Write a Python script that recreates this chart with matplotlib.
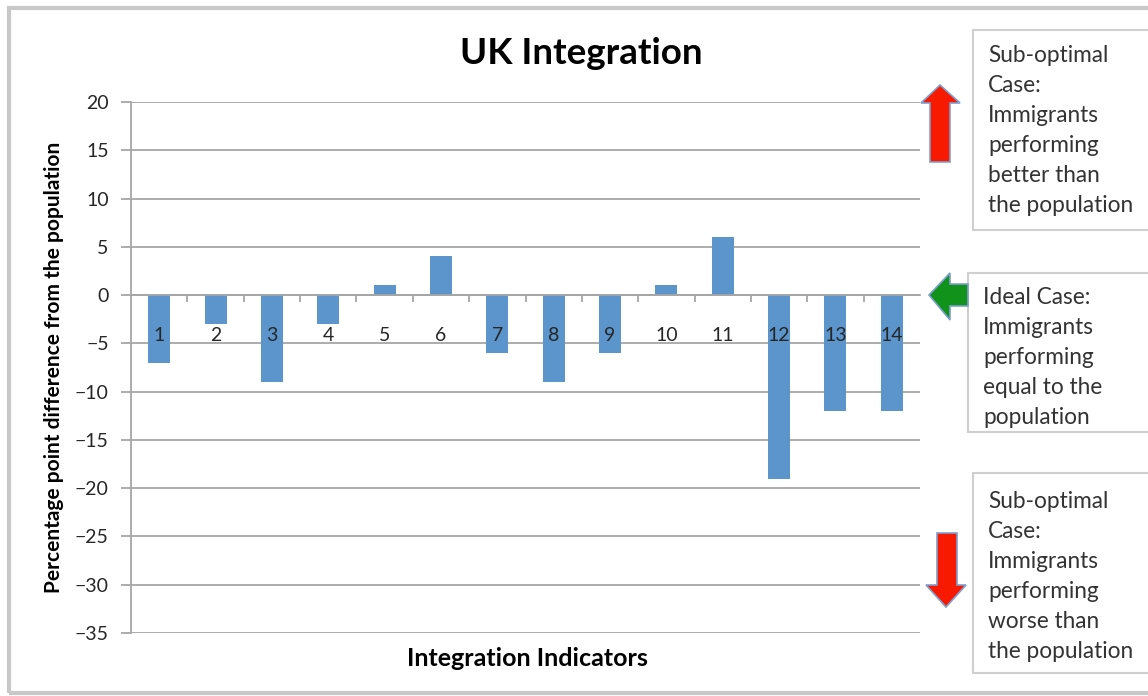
#UK integration bar chart with side annotations

import numpy as np
import matplotlib
matplotlib.use('Agg')
import matplotlib.pyplot as plt
from matplotlib.patches import Polygon, Rectangle

plt.rcParams['font.family'] = ['Lato', 'DejaVu Sans']

#Input data
indicators = [str(i) for i in range(1, 15)]
diffs = [-7, -3, -9, -3, 1, 4, -6, -9, -6, 1, 6, -19, -12, -12]
yticks = list(range(-35, 25, 5))

box_texts = [
    ['Sub-optimal', 'Case:', 'Immigrants', 'performing', 'better than', 'the population'],
    ['Ideal Case:', 'Immigrants', 'performing', 'equal to the', 'population'],
    ['Sub-optimal', 'Case:', 'Immigrants', 'performing', 'worse than', 'the population'],
]

W, H = 1148, 696
fig = plt.figure(figsize=(W/100, H/100), dpi=100)

def fx(x):                    #pixel -> figure fraction
    return x / W

def fy(y):
    return 1 - y / H

ax = fig.add_axes([fx(131), fy(633), fx(920) - fx(131), fy(102) - fy(633)])

x = np.arange(len(indicators))
ax.bar(x, diffs, width=0.39, color='#5b95cb', zorder=2)

ax.set_xlim(-0.5, len(indicators) - 0.5)
ax.set_ylim(-35, 20)
ax.set_yticks(yticks)
ax.yaxis.grid(True, color='#a6a6a6', linewidth=1.3)
ax.tick_params(axis='y', length=7, width=1.3, color='#a6a6a6', labelsize=14,
               pad=9, labelcolor='#262626')

#category axis sits on zero
ax.spines['bottom'].set_position(('data', 0))
ax.spines['bottom'].set_color('#a6a6a6')
ax.spines['bottom'].set_linewidth(1.3)
ax.spines['left'].set_color('#a6a6a6')
ax.spines['left'].set_linewidth(1.3)
ax.spines['top'].set_visible(False)
ax.spines['right'].set_visible(False)
ax.set_xticks(x)
ax.set_xticklabels(indicators)
ax.set_xticks(x[:-1] + 0.5, minor=True)
ax.tick_params(axis='x', which='major', length=0, labelsize=14, pad=23,
               labelcolor='#262626')
ax.tick_params(axis='x', which='minor', length=5, width=1.3, color='#a6a6a6')
ax.set_axisbelow(True)
ax.xaxis.set_zorder(3)       #category labels over the bars

ax.set_ylabel('Percentage point difference from the population',
              fontsize=15, fontweight='bold')
ax.yaxis.set_label_coords((64 - 131) / (920 - 131), 0.5)
fig.text(fx(527), fy(659), 'Integration Indicators', fontsize=18,
         fontweight='bold', ha='center', va='center')
fig.text(fx(581), fy(53), 'UK Integration', fontsize=26.5,
         fontweight='bold', ha='center', va='center')

#outer frame
fig.patches.append(Rectangle((fx(9), fy(693)), fx(1200) - fx(9), fy(8) - fy(693),
                             transform=fig.transFigure, fill=False,
                             edgecolor='#c8c8c8', linewidth=3))

#annotation boxes
boxes = [(973, 30, 230), (968, 273, 432), (973, 473, 673)]
first_line = [56, 298, 501]
for (bx, y0, y1), lines, ly in zip(boxes, box_texts, first_line):
    fig.patches.append(Rectangle((fx(bx), fy(y1)), fx(1200) - fx(bx), fy(y0) - fy(y1),
                                 transform=fig.transFigure, facecolor='white',
                                 edgecolor='#cfcfcf', linewidth=1.5))
    for i, t in enumerate(lines):
        fig.text(fx(bx + 15), fy(ly + 30 * i), t, fontsize=16.3, color='#333333',
                 ha='left', va='center')

#arrows (pixel outlines)
up = [(940, 85), (960, 103), (950, 103), (950, 162), (930, 162), (930, 103), (921, 103)]
left = [(929, 295), (950, 273), (950, 284), (968, 284), (968, 306), (950, 306), (950, 320)]
down = [(937, 533), (957, 533), (957, 585), (966, 585), (946, 607), (926, 585), (937, 585)]
for pts, col in [(up, '#f81a00'), (left, '#11921a'), (down, '#f81a00')]:
    fig.patches.append(Polygon([(fx(a), fy(b)) for a, b in pts], closed=True,
                               transform=fig.transFigure, facecolor=col,
                               edgecolor='#7f9fcf', linewidth=1.2))

plt.savefig('out.png', dpi=100)
